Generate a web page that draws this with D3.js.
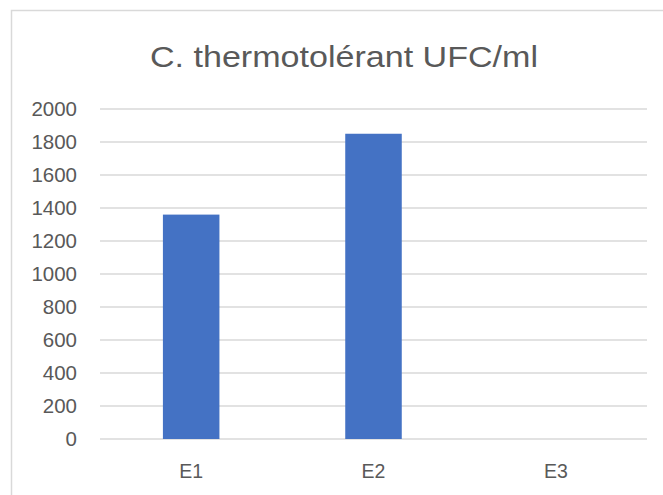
<!DOCTYPE html>
<html>
<head>
<meta charset="utf-8">
<script src="https://cdn.jsdelivr.net/npm/d3@7"></script>
<style>
  body { margin: 0; background: #fff; }
  text { font-family: "Liberation Sans", Arial, sans-serif; fill: #595959; }
</style>
</head>
<body>
<div id="chart"></div>
<script>
// data
var categories = ["E1", "E2", "E3"];
var values = [1360, 1850, 0];
var yTicks = [0, 200, 400, 600, 800, 1000, 1200, 1400, 1600, 1800, 2000];
var title = "C. thermotolérant UFC/ml";

var W = 663, H = 495;
var margin = {top: 109, right: 16, bottom: 56, left: 100},
    width = W - margin.left - margin.right,
    height = H - margin.top - margin.bottom;

var svg = d3.select("#chart")
  .append("svg")
    .attr("width", W)
    .attr("height", H);

// chart frame
svg.append("rect")
  .attr("x", 11.5)
  .attr("y", 10.5)
  .attr("width", W)
  .attr("height", H)
  .attr("fill", "none")
  .attr("stroke", "#d9d9d9")
  .attr("stroke-width", 1.5);

svg.append("text")
  .attr("x", 344)
  .attr("y", 67)
  .attr("text-anchor", "middle")
  .style("font-size", "30px")
  .attr("textLength", 388)
  .attr("lengthAdjust", "spacingAndGlyphs")
  .text(title);

var g = svg.append("g")
  .attr("transform", "translate(" + margin.left + "," + margin.top + ")");

var x = d3.scaleBand()
  .domain(categories)
  .range([0, width])
  .paddingInner(0.69)
  .paddingOuter(0.345);

var y = d3.scaleLinear()
  .domain([0, 2000])
  .range([height, 0]);

// gridlines
g.append("g")
  .selectAll("line")
  .data(yTicks)
  .enter().append("line")
    .attr("x1", 0)
    .attr("x2", width)
    .attr("y1", function(d) { return y(d); })
    .attr("y2", function(d) { return y(d); })
    .attr("stroke", "#d9d9d9")
    .attr("stroke-width", 1.5);

// y axis labels
var yAxis = g.append("g")
  .call(d3.axisLeft(y).tickValues(yTicks).tickFormat(d3.format("d")).tickSize(0).tickPadding(23));
yAxis.select(".domain").remove();
yAxis.attr("font-family", null);
yAxis.selectAll("text")
  .style("font-size", "20.5px")
  .attr("fill", "#595959");

// bars
g.selectAll("rect.bar")
  .data(values)
  .enter().append("rect")
    .attr("class", "bar")
    .attr("x", function(d, i) { return x(categories[i]); })
    .attr("y", function(d) { return y(d); })
    .attr("width", x.bandwidth())
    .attr("height", function(d) { return height - y(d); })
    .attr("fill", "#4472c4");

// x axis labels
var xAxis = g.append("g")
  .attr("transform", "translate(0," + height + ")")
  .call(d3.axisBottom(x).tickSize(0).tickPadding(25));
xAxis.select(".domain").remove();
xAxis.attr("font-family", null);
xAxis.selectAll("text")
  .style("font-size", "19.5px")
  .attr("fill", "#595959");
</script>
</body>
</html>
